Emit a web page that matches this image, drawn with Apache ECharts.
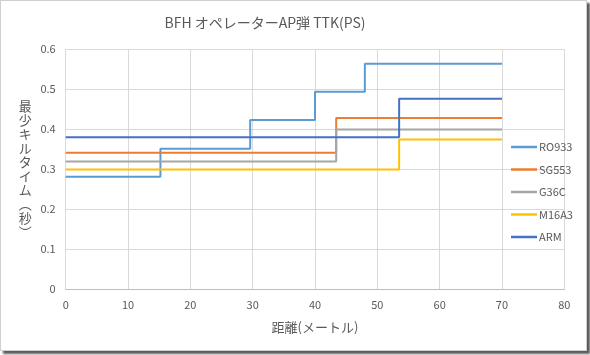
<!DOCTYPE html>
<html><head><meta charset="utf-8">
<script src="https://cdn.jsdelivr.net/npm/echarts@6/dist/echarts.min.js"></script>
<style>
html,body{margin:0;padding:0;background:#fff;}
#frame{position:absolute;left:0;top:0;width:585px;height:349px;border:1px solid #d0d0d0;box-shadow:3px 3px 2px #5a5a5a;background:#fff;}
#chart{width:585px;height:349px;}
</style></head>
<body><div id="frame"><div id="chart"></div></div>
<script>
const title = 'BFH オペレーターAP弾 TTK(PS)';
const xAxisName = '距離(メートル)';
const yAxisName = '最少キルタイム(秒)';
const seriesNames = ['RO933', 'SG553', 'G36C', 'M16A3', 'ARM'];
const seriesColors = ['#5b9bd5', '#ed7d31', '#a5a5a5', '#ffc000', '#4472c4'];
// step breakpoints (distance) and values
const ro933X = [0, 15.2, 29.6, 40, 48, 70];
const ro933Y = [0.281, 0.351, 0.423, 0.494, 0.564, 0.564];
const sg553X = [0, 43.4, 70];
const sg553Y = [0.341, 0.428, 0.428];
const g36cX = [0, 43.4, 70];
const g36cY = [0.319, 0.399, 0.399];
const m16a3X = [0, 53.5, 70];
const m16a3Y = [0.299, 0.374, 0.374];
const armX = [0, 53.5, 70];
const armY = [0.380, 0.476, 0.476];
const xTicks = {min: 0, max: 80, interval: 10};
const yTicks = {min: 0, max: 0.6, interval: 0.1};

const allX = [ro933X, sg553X, g36cX, m16a3X, armX];
const allY = [ro933Y, sg553Y, g36cY, m16a3Y, armY];
const txt = '#595959';
const font = '"Noto Sans CJK JP", "Noto Sans", sans-serif';

const chart = echarts.init(document.getElementById('chart'), null, {renderer: 'canvas'});
chart.setOption({
  animation: false,
  textStyle: {fontFamily: font},
  title: {
    text: title, left: 259, top: 10, textAlign: 'center',
    textStyle: {color: txt, fontSize: 14, fontWeight: 'normal', fontFamily: font}
  },
  grid: {left: 64.7, top: 48.3, width: 498.6, height: 239.7, containLabel: false},
  legend: {
    orient: 'vertical', left: 505, top: 135,
    itemWidth: 26, itemHeight: 2.5, itemGap: 10.5, icon: 'rect',
    textStyle: {color: txt, fontSize: 11, lineHeight: 12, fontFamily: font, padding: [0,0,0,-3]},
    data: seriesNames
  },
  xAxis: {
    type: 'value', min: xTicks.min, max: xTicks.max, interval: xTicks.interval,
    name: xAxisName, nameLocation: 'middle', nameGap: 32,
    nameTextStyle: {color: txt, fontSize: 13, fontFamily: font},
    axisLine: {show: true, lineStyle: {color: '#bfbfbf', width: 1}},
    axisTick: {show: false},
    axisLabel: {color: txt, fontSize: 11, margin: 10, fontFamily: font},
    splitLine: {show: true, lineStyle: {color: '#d9d9d9', width: 1}}
  },
  yAxis: {
    type: 'value', min: yTicks.min, max: yTicks.max, interval: yTicks.interval,
    name: yAxisName.split('').map(c => c === '(' ? '︵' : c === ')' ? '︶' : c).join('\n'),
    nameLocation: 'middle', nameGap: 34, nameRotate: 0,
    nameTextStyle: {color: txt, fontSize: 13, lineHeight: 14, fontFamily: font},
    axisLine: {show: false},
    axisTick: {show: false},
    axisLabel: {color: txt, fontSize: 11, margin: 10, fontFamily: font,
      formatter: v => (Math.round(v * 10) / 10).toString()},
    splitLine: {show: true, lineStyle: {color: '#d9d9d9', width: 1}}
  },
  series: seriesNames.map((n, i) => ({
    name: n, type: 'line', step: 'end', showSymbol: false, symbol: 'none',
    color: seriesColors[i],
    lineStyle: {width: 2, color: seriesColors[i]},
    data: allX[i].map((x, j) => [x, allY[i][j]])
  }))
});
</script></body></html>
